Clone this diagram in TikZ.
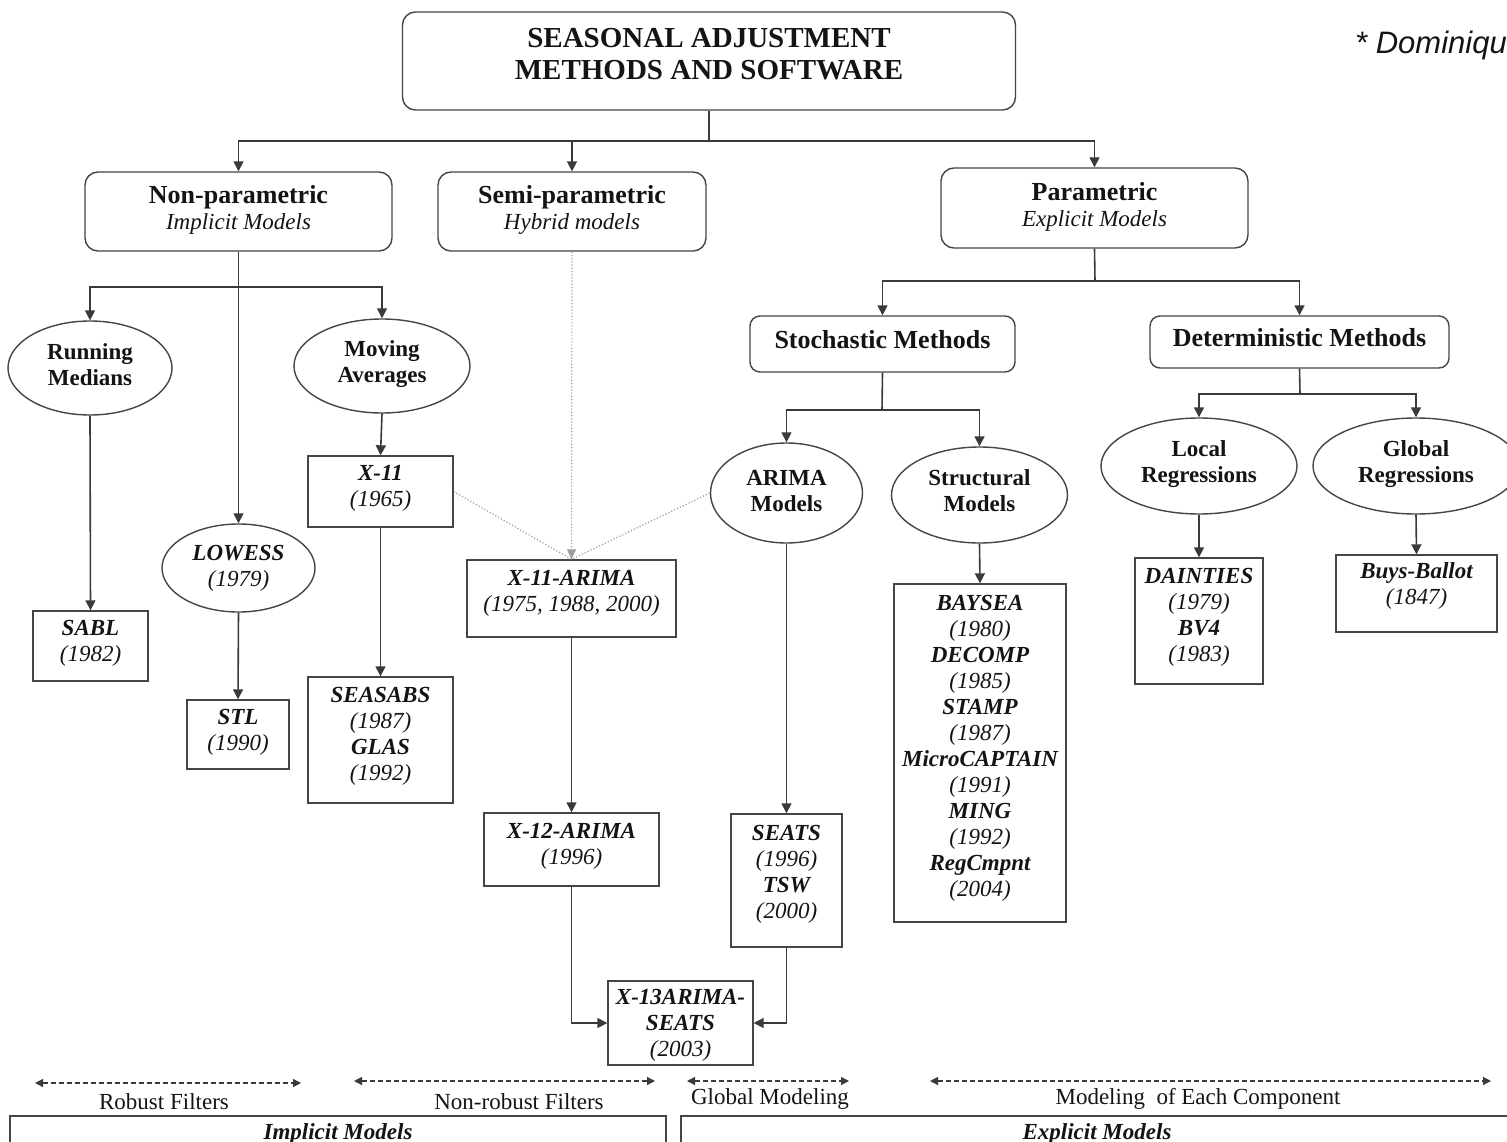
\documentclass[tikz,border=0pt]{standalone}
\usepackage{fontspec}
\setmainfont{Liberation Serif}
\newfontfamily\dsansfont{Liberation Sans}
\usetikzlibrary{arrows.meta,shapes.geometric}
\definecolor{boxc}{HTML}{454545}
\definecolor{linec}{HTML}{3a3a3a}
\definecolor{txtc}{HTML}{141414}
\newcommand\ftxt{\fontsize{23}{26}\selectfont}
\newcommand\fhead{\fontsize{26}{28}\selectfont}
\newcommand\ftitle{\fontsize{29}{32}\selectfont}
\begin{document}
\begin{tikzpicture}[x=1pt,y=-1pt,
  every node/.style={text=txtc},
  rbox/.style={draw=boxc,line width=1.4pt,rounded corners=13pt,inner sep=0pt},
  sbox/.style={draw=boxc,line width=1.4pt,inner sep=0pt},
  ell/.style={draw=boxc,line width=1.4pt,ellipse,inner sep=0pt},
  tx/.style={font=\ftxt,align=center,inner sep=0pt},
  arr/.style={draw=linec,line width=1.6pt,-{Triangle[length=10pt,width=10pt]}},
  plain/.style={draw=linec,line width=1.6pt},
  dotl/.style={draw=gray!75,line width=1.2pt,dotted},
  dbl/.style={draw=linec,line width=1.2pt,dash pattern=on 5pt off 3pt,{Triangle[length=8pt,width=8pt]}-{Triangle[length=8pt,width=8pt]}},
  lbl/.style={font=\ftxt,inner sep=0pt}
]
\useasboundingbox (0,0) rectangle (1507,1142);
\clip (0,0) rectangle (1507,1142);
\fill[white] (0,0) rectangle (1507,1142);

% title
\node[rbox,minimum width=613pt,minimum height=98pt] (top) at (709,61) {};
\node[tx,font=\ftitle\bfseries] (top-t) at (709,54) {SEASONAL ADJUSTMENT\\METHODS AND SOFTWARE};
\node[font=\dsansfont\fontsize{31}{34}\selectfont\itshape,anchor=west,inner sep=0pt] (dom) at (1355,45) {* Dominiqu};

% level 1
\node[rbox,minimum width=307pt,minimum height=79pt] (nonpar) at (238.5,211.5) {};
\node[tx] (nonpar-t) at (238.5,210) {{\fhead\bfseries Non-parametric}\\{\itshape Implicit Models}};
\node[rbox,minimum width=268pt,minimum height=79pt] (semipar) at (572,211.5) {};
\node[tx] (semipar-t) at (572,210) {{\fhead\bfseries Semi-parametric}\\{\itshape Hybrid models}};
\node[rbox,minimum width=307pt,minimum height=80pt] (par) at (1094.5,208) {};
\node[tx] (par-t) at (1094.5,206.5) {{\fhead\bfseries Parametric}\\{\itshape Explicit Models}};

\coordinate (j1) at (709,141);
\draw[plain] (top.south) -- (j1);
\draw[arr] (j1) -| (nonpar.north);
\draw[arr] (j1) -| (semipar.north);
\draw[arr] (j1) -| (par.north);

% non-parametric branch
\node[ell,minimum width=164pt,minimum height=94pt] (runmed) at (90,368) {};
\node[tx,font=\ftxt\bfseries] (runmed-t) at (90,365) {Running\\Medians};
\node[ell,minimum width=176pt,minimum height=94pt] (movavg) at (382,366) {};
\node[tx,font=\ftxt\bfseries] (movavg-t) at (382,364.5) {Moving\\Averages};
\node[ell,minimum width=153pt,minimum height=88pt] (lowess) at (238.5,568) {};
\node[tx] (lowess-t) at (238.5,568) {{\bfseries\itshape LOWESS}\\{\itshape (1979)}};
\coordinate (j2) at (238.5,287);
\draw[arr] (nonpar.south) -- (lowess.north);
\draw[arr] (j2) -| (runmed.north);
\draw[arr] (j2) -| (movavg.north);

\node[sbox,minimum width=115pt,minimum height=70pt] (sabl) at (90.5,646) {};
\node[tx] (sabl-t) at (90.5,643) {{\bfseries\itshape SABL}\\{\itshape (1982)}};
\node[sbox,minimum width=102pt,minimum height=69pt] (stl) at (238,734.5) {};
\node[tx] (stl-t) at (238,732.5) {{\bfseries\itshape STL}\\{\itshape (1990)}};
\node[sbox,minimum width=145pt,minimum height=71pt] (x11) at (380.5,491.5) {};
\node[tx] (x11-t) at (380.5,488.5) {{\bfseries\itshape X-11}\\{\itshape (1965)}};
\node[sbox,minimum width=145pt,minimum height=126pt] (seasabs) at (380.5,740) {};
\node[tx] (seasabs-t) at (380.5,736) {{\bfseries\itshape SEASABS}\\{\itshape (1987)}\\{\bfseries\itshape GLAS}\\{\itshape (1992)}};
\draw[arr] (runmed.south) -- (sabl.north);
\draw[arr] (lowess.south) -- (stl.north);
\draw[arr] (movavg.south) -- (x11.north);
\draw[arr] (x11.south) -- (seasabs.north);

% semi-parametric branch
\node[sbox,minimum width=209pt,minimum height=77pt] (x11arima) at (571.5,598.5) {};
\node[tx] (x11arima-t) at (571.5,593.5) {{\bfseries\itshape X-11-ARIMA}\\{\itshape (1975, 1988, 2000)}};
\node[sbox,minimum width=175pt,minimum height=73pt] (x12arima) at (571.5,849.5) {};
\node[tx] (x12arima-t) at (571.5,846.5) {{\bfseries\itshape X-12-ARIMA}\\{\itshape (1996)}};
\node[sbox,minimum width=145pt,minimum height=84pt] (x13) at (680.5,1023) {};
\node[tx] (x13-t) at (680.5,1025.5) {{\bfseries\itshape X-13ARIMA-}\\{\bfseries\itshape SEATS}\\{\itshape (2003)}};
\draw[dotl,-{Triangle[length=10pt,width=9pt]}] (semipar.south) -- (x11arima.north);
\draw[arr] (x11arima.south) -- (x12arima.north);
\draw[arr] (x12arima.south) |- (x13.west);

% parametric branch
\node[rbox,minimum width=265pt,minimum height=56pt,rounded corners=10pt] (stoch) at (882.5,344) {};
\node[tx,font=\fhead\bfseries] (stoch-t) at (882.5,340) {Stochastic Methods};
\node[rbox,minimum width=299pt,minimum height=52pt,rounded corners=10pt] (determ) at (1299.5,342) {};
\node[tx,font=\fhead\bfseries] (determ-t) at (1299.5,338) {Deterministic Methods};
\coordinate (j3) at (1095,281);
\draw[plain] (par.south) -- (j3);
\draw[arr] (j3) -| (stoch.north);
\draw[arr] (j3) -| (determ.north);

\node[ell,minimum width=152pt,minimum height=100pt] (arima) at (786.5,493) {};
\node[tx,font=\ftxt\bfseries] (arima-t) at (786.5,491) {ARIMA\\Models};
\node[ell,minimum width=176pt,minimum height=96pt] (struct) at (979.5,495) {};
\node[tx,font=\ftxt\bfseries] (struct-t) at (979.5,491) {Structural\\Models};
\coordinate (j4) at (882,410);
\draw[plain] (stoch.south) -- (j4);
\draw[arr] (j4) -| (arima.north);
\draw[arr] (j4) -| (struct.north);

\draw[dotl] (x11.east) -- (x11arima.north);
\draw[dotl] (arima.west) -- (x11arima.north);

\node[sbox,minimum width=111pt,minimum height=133pt] (seats) at (786.5,880.5) {};
\node[tx] (seats-t) at (786.5,874) {{\bfseries\itshape SEATS}\\{\itshape (1996)}\\{\bfseries\itshape TSW}\\{\itshape (2000)}};
\draw[arr] (arima.south) -- (seats.north);
\draw[arr] (seats.south) |- (x13.east);

\node[sbox,minimum width=172pt,minimum height=338pt] (baysea) at (980,753) {};
\node[tx] (baysea-t) at (980,748.5) {{\bfseries\itshape BAYSEA}\\{\itshape (1980)}\\{\bfseries\itshape DECOMP}\\{\itshape (1985)}\\{\bfseries\itshape STAMP}\\{\itshape (1987)}\\{\bfseries\itshape MicroCAPTAIN}\\{\itshape (1991)}\\{\bfseries\itshape MING}\\{\itshape (1992)}\\{\bfseries\itshape RegCmpnt}\\{\itshape (2004)}};
\draw[arr] (struct.south) -- (baysea.north);

\node[ell,minimum width=196pt,minimum height=96pt] (local) at (1199,466) {};
\node[tx,font=\ftxt\bfseries] (local-t) at (1199,464.5) {Local\\Regressions};
\node[ell,minimum width=206pt,minimum height=96pt] (global) at (1416,466) {};
\node[tx,font=\ftxt\bfseries] (global-t) at (1416,464.5) {Global\\Regressions};
\coordinate (j5) at (1300,394);
\draw[plain] (determ.south) -- (j5);
\draw[arr] (j5) -| (local.north);
\draw[arr] (j5) -| (global.north);

\node[sbox,minimum width=128pt,minimum height=126pt] (dainties) at (1199,621) {};
\node[tx] (dainties-t) at (1199,617.5) {{\bfseries\itshape DAINTIES}\\{\itshape (1979)}\\{\bfseries\itshape BV4}\\{\itshape (1983)}};
\node[sbox,minimum width=161pt,minimum height=77pt] (buys) at (1416.5,593.5) {};
\node[tx] (buys-t) at (1416.5,585.5) {{\bfseries\itshape Buys-Ballot}\\{\itshape (1847)}};
\draw[arr] (local.south) -- (dainties.north);
\draw[arr] (global.south) -- (buys.north);

% bottom ranges
\coordinate (r1a) at (35,1083); \coordinate (r1b) at (301,1083);
\coordinate (r2a) at (354,1081); \coordinate (r2b) at (655,1081);
\coordinate (r3a) at (687,1081); \coordinate (r3b) at (849,1081);
\coordinate (r4a) at (930,1081); \coordinate (r4b) at (1491,1081);
\draw[dbl] (r1a) -- (r1b);
\draw[dbl] (r2a) -- (r2b);
\draw[dbl] (r3a) -- (r3b);
\draw[dbl] (r4a) -- (r4b);
\node[lbl] (l1) at (164,1102) {Robust Filters};
\node[lbl] (l2) at (519,1102) {Non-robust Filters};
\node[lbl] (l3) at (770,1099) {Global Modeling};
\node[lbl] (l4) at (1198,1099) {Modeling\ \ of Each Component};

\node[sbox,minimum width=656pt,minimum height=40pt] (impl) at (338,1136) {};
\node[tx,font=\ftxt\bfseries\itshape] (impl-t) at (338,1134) {Implicit Models};
\node[sbox,minimum width=834pt,minimum height=40pt] (expl) at (1098,1136) {};
\node[tx,font=\ftxt\bfseries\itshape] (expl-t) at (1097,1134) {Explicit Models};
\end{tikzpicture}
\end{document}
